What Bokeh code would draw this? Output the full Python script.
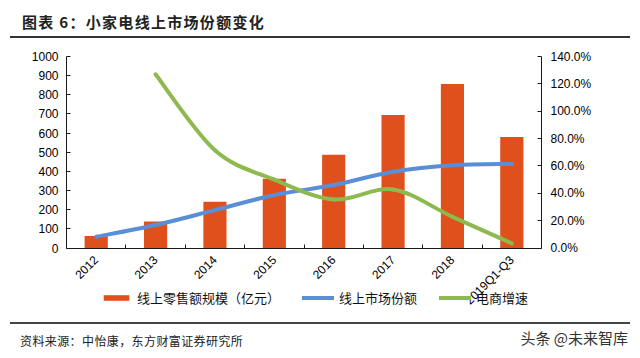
import math
from bokeh.plotting import figure
from bokeh.models import (Range1d, LinearAxis, FixedTicker, NumeralTickFormatter,
                          Legend, LegendItem, Div, ColumnDataSource)
from bokeh.layouts import column
from bokeh.embed import file_html
from bokeh.resources import INLINE

# ---- data ----
categories = ["2012", "2013", "2014", "2015", "2016", "2017", "2018", "2019Q1-Q3"]
retail_scale = [63, 138, 241, 361, 487, 695, 857, 580]          # 线上零售额规模（亿元）
online_share = [0.082, 0.168, 0.277, 0.387, 0.46, 0.557, 0.605, 0.615]  # 线上市场份额
ecom_growth = [None, 1.27, 0.715, 0.50, 0.355, 0.428, 0.228, 0.034]     # 电商增速
left_ticks = list(range(0, 1001, 100))
right_ticks = [0.0, 0.2, 0.4, 0.6, 0.8, 1.0, 1.2, 1.4]
left_max, right_max = 1000, 1.4

ORANGE = "#E0501C"
BLUE = "#5A8FD8"
GREEN = "#8DB94E"
CJK = "Noto Sans CJK SC"

# layout geometry (pixels)
PLOT_W, PLOT_H = 624, 274
BORDER_L, BORDER_R, BORDER_T = 66, 83, 18
AXIS_PX = 191.5                     # pixel height from value 0 to the axis maximum
frame_h = PLOT_H - BORDER_T
below_frac = (frame_h - AXIS_PX) / AXIS_PX


def smooth_source(xs, ys):
    """Bezier segments through the data points (Catmull-Rom style smoothing)."""
    n = len(xs)
    d = dict(x0=[], y0=[], x1=[], y1=[], cx0=[], cy0=[], cx1=[], cy1=[])
    for i in range(n - 1):
        a = i - 1 if i > 0 else i
        b = i + 2 if i + 2 < n else i + 1
        d["x0"].append(xs[i]); d["y0"].append(ys[i])
        d["x1"].append(xs[i + 1]); d["y1"].append(ys[i + 1])
        d["cx0"].append(xs[i] + (xs[i + 1] - xs[a]) / 6)
        d["cy0"].append(ys[i] + (ys[i + 1] - ys[a]) / 6)
        d["cx1"].append(xs[i + 1] - (xs[b] - xs[i]) / 6)
        d["cy1"].append(ys[i + 1] - (ys[b] - ys[i]) / 6)
    return ColumnDataSource(d)


idx = list(range(len(categories)))

p = figure(width=PLOT_W, height=PLOT_H, x_range=Range1d(-0.5, len(categories) - 0.5),
           y_range=Range1d(-left_max * below_frac, left_max), output_backend="svg",
           toolbar_location=None, min_border_left=BORDER_L, min_border_right=BORDER_R,
           min_border_top=BORDER_T, min_border_bottom=0)
p.extra_y_ranges = {"right": Range1d(-right_max * below_frac, right_max)}
p.outline_line_color = None
p.xgrid.visible = False
p.ygrid.visible = False
p.background_fill_color = "white"
p.border_fill_color = "white"

bars = p.vbar(x=idx, top=retail_scale, width=0.39, fill_color=ORANGE, line_color=None)

sx = smooth_source(idx, online_share)
blue = p.bezier(x0="x0", y0="y0", x1="x1", y1="y1", cx0="cx0", cy0="cy0", cx1="cx1", cy1="cy1",
                source=sx, line_color=BLUE, line_width=4, line_cap="round", y_range_name="right")

gi = [i for i, v in zip(idx, ecom_growth) if v is not None]
gv = [v for v in ecom_growth if v is not None]
sg = smooth_source(gi, gv)
green = p.bezier(x0="x0", y0="y0", x1="x1", y1="y1", cx0="cx0", cy0="cy0", cx1="cx1", cy1="cy1",
                 source=sg, line_color=GREEN, line_width=4, line_cap="round", y_range_name="right")

# axes
ax_col = "#1a1a1a"
yl = p.yaxis[0]
yl.ticker = FixedTicker(ticks=left_ticks)
yl.bounds = (0, left_max)
yl.minor_tick_line_color = None
yl.major_tick_in = 4
yl.major_tick_out = 0
yl.axis_line_color = ax_col
yl.major_tick_line_color = ax_col
yl.major_label_text_font = "Liberation Sans"
yl.major_label_text_font_size = "12px"
yl.major_label_text_color = "#000000"
yl.major_label_standoff = 8

yr = LinearAxis(y_range_name="right", ticker=FixedTicker(ticks=right_ticks),
                formatter=NumeralTickFormatter(format="0.0%"), bounds=(0, right_max))
yr.minor_tick_line_color = None
yr.major_tick_in = 4
yr.major_tick_out = 0
yr.axis_line_color = ax_col
yr.major_tick_line_color = ax_col
yr.major_label_text_font = "Liberation Sans"
yr.major_label_text_font_size = "12px"
yr.major_label_text_color = "#000000"
yr.major_label_standoff = 9
p.add_layout(yr, "right")

xa = p.xaxis[0]
xa.fixed_location = 0
xa.ticker = FixedTicker(ticks=idx, minor_ticks=[i - 0.5 for i in range(len(categories) + 1)])
xa.major_label_overrides = {i: c for i, c in zip(idx, categories)}
xa.major_tick_line_color = None
xa.minor_tick_in = 4
xa.minor_tick_out = 0
xa.minor_tick_line_color = ax_col
xa.axis_line_color = ax_col
xa.major_label_orientation = math.pi / 4
xa.major_label_text_font = "Liberation Sans"
xa.major_label_text_font_size = "12px"
xa.major_label_text_color = "#000000"
xa.major_label_standoff = 4

legend = Legend(items=[LegendItem(label="线上零售额规模（亿元）", renderers=[bars]),
                       LegendItem(label="线上市场份额", renderers=[blue]),
                       LegendItem(label="电商增速", renderers=[green])],
                orientation="horizontal", location=(34, 5), glyph_width=32, glyph_height=7,
                label_text_font=CJK, label_text_font_size="13px", label_text_color="#111111",
                spacing=22, padding=0, margin=0, label_standoff=5,
                border_line_color=None, background_fill_alpha=0)
p.add_layout(legend)

title = Div(width=632, height=38, margin=0, text=(
    "<div style='position:relative;width:632px;height:38px;'>"
    "<div style=\"position:absolute;left:22px;top:11px;font-family:'Noto Sans CJK SC';"
    "font-size:15px;font-weight:bold;letter-spacing:1.3px;color:#222;white-space:nowrap;\">"
    "图表 6：小家电线上市场份额变化</div>"
    "<div style='position:absolute;left:10px;top:36px;width:620px;height:0;"
    "border-top:2px solid #333;'></div></div>"))

footer = Div(width=632, height=38, margin=0, text=(
    "<div style='position:relative;width:632px;height:38px;'>"
    "<div style='position:absolute;left:10px;top:10px;width:620px;height:0;"
    "border-top:2px solid #444;'></div>"
    "<div style=\"position:absolute;left:20px;top:20px;font-family:'Noto Sans CJK SC';"
    "font-size:12px;letter-spacing:0.4px;color:#222;white-space:nowrap;\">资料来源：中怡康，东方财富证券研究所</div>"
    "<div style=\"position:absolute;right:4px;top:15px;font-family:'Noto Sans CJK SC';"
    "font-size:15px;color:#333;white-space:nowrap;\">头条 @未来智库</div></div>"))

layout = column(title, p, footer, spacing=0)
open("out.html", "w").write(file_html(layout, INLINE))
